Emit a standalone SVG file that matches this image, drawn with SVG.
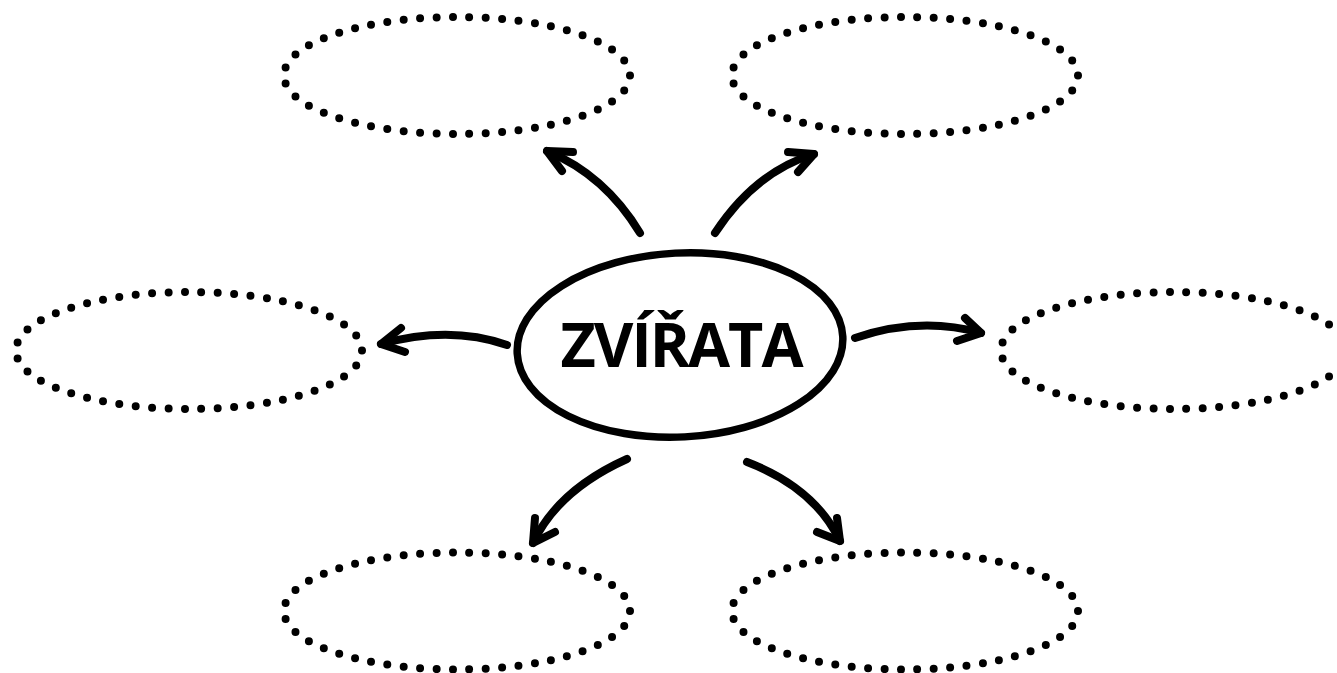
<svg xmlns="http://www.w3.org/2000/svg" width="1337" height="673" viewBox="0 0 1337 673">
<style>
.dot{fill:none;stroke:#000;stroke-width:8;stroke-linecap:round;stroke-dasharray:0 1}
.arr{fill:none;stroke:#000;stroke-width:8;stroke-linecap:round;stroke-linejoin:round}
.title{font-family:"Open Sans","Noto Sans",sans-serif;font-weight:bold;font-size:61px;letter-spacing:-2px;fill:#000}
</style>
<rect width="1337" height="673" fill="#fff"/>
<g id="center">
<ellipse cx="680" cy="345" rx="163" ry="92" fill="none" stroke="#000" stroke-width="7.5" transform="rotate(-3 680 345)"/>
<text class="title" x="681" y="367" text-anchor="middle">ZVÍŘATA</text>
</g>
<g id="node-top-left"><ellipse class="dot" cx="457" cy="75.5" rx="173" ry="58.5" pathLength="47"/></g>
<g id="node-top-right"><ellipse class="dot" cx="905" cy="75.5" rx="173" ry="58.5" pathLength="47"/></g>
<g id="node-mid-left"><ellipse class="dot" cx="189" cy="350.5" rx="173" ry="58.5" pathLength="47"/></g>
<g id="node-mid-right"><ellipse class="dot" cx="1174" cy="350.5" rx="173" ry="58.5" pathLength="47"/></g>
<g id="node-bottom-left"><ellipse class="dot" cx="457" cy="611" rx="173" ry="58.5" pathLength="47"/></g>
<g id="node-bottom-right"><ellipse class="dot" cx="905" cy="611" rx="173" ry="58.5" pathLength="47"/></g>
<g id="connectors">
<path class="arr" d="M640,233 Q605,175 547,151"/>
<path class="arr" d="M573,152 L547,151 L562,171"/>
<path class="arr" d="M715,233 Q755,172 814,154"/>
<path class="arr" d="M788,152 L814,154 L798,172"/>
<path class="arr" d="M507,345 Q450,325 381,344"/>
<path class="arr" d="M401,328 L381,344 L405,352"/>
<path class="arr" d="M855,338 Q920,316 981,333"/>
<path class="arr" d="M965,318 L981,333 L957,341"/>
<path class="arr" d="M627,459 Q558,490 533,543"/>
<path class="arr" d="M535,518 L533,543 L555,532"/>
<path class="arr" d="M747,462 Q815,488 840,541"/>
<path class="arr" d="M837,518 L840,541 L817,532"/>
</g>
</svg>
